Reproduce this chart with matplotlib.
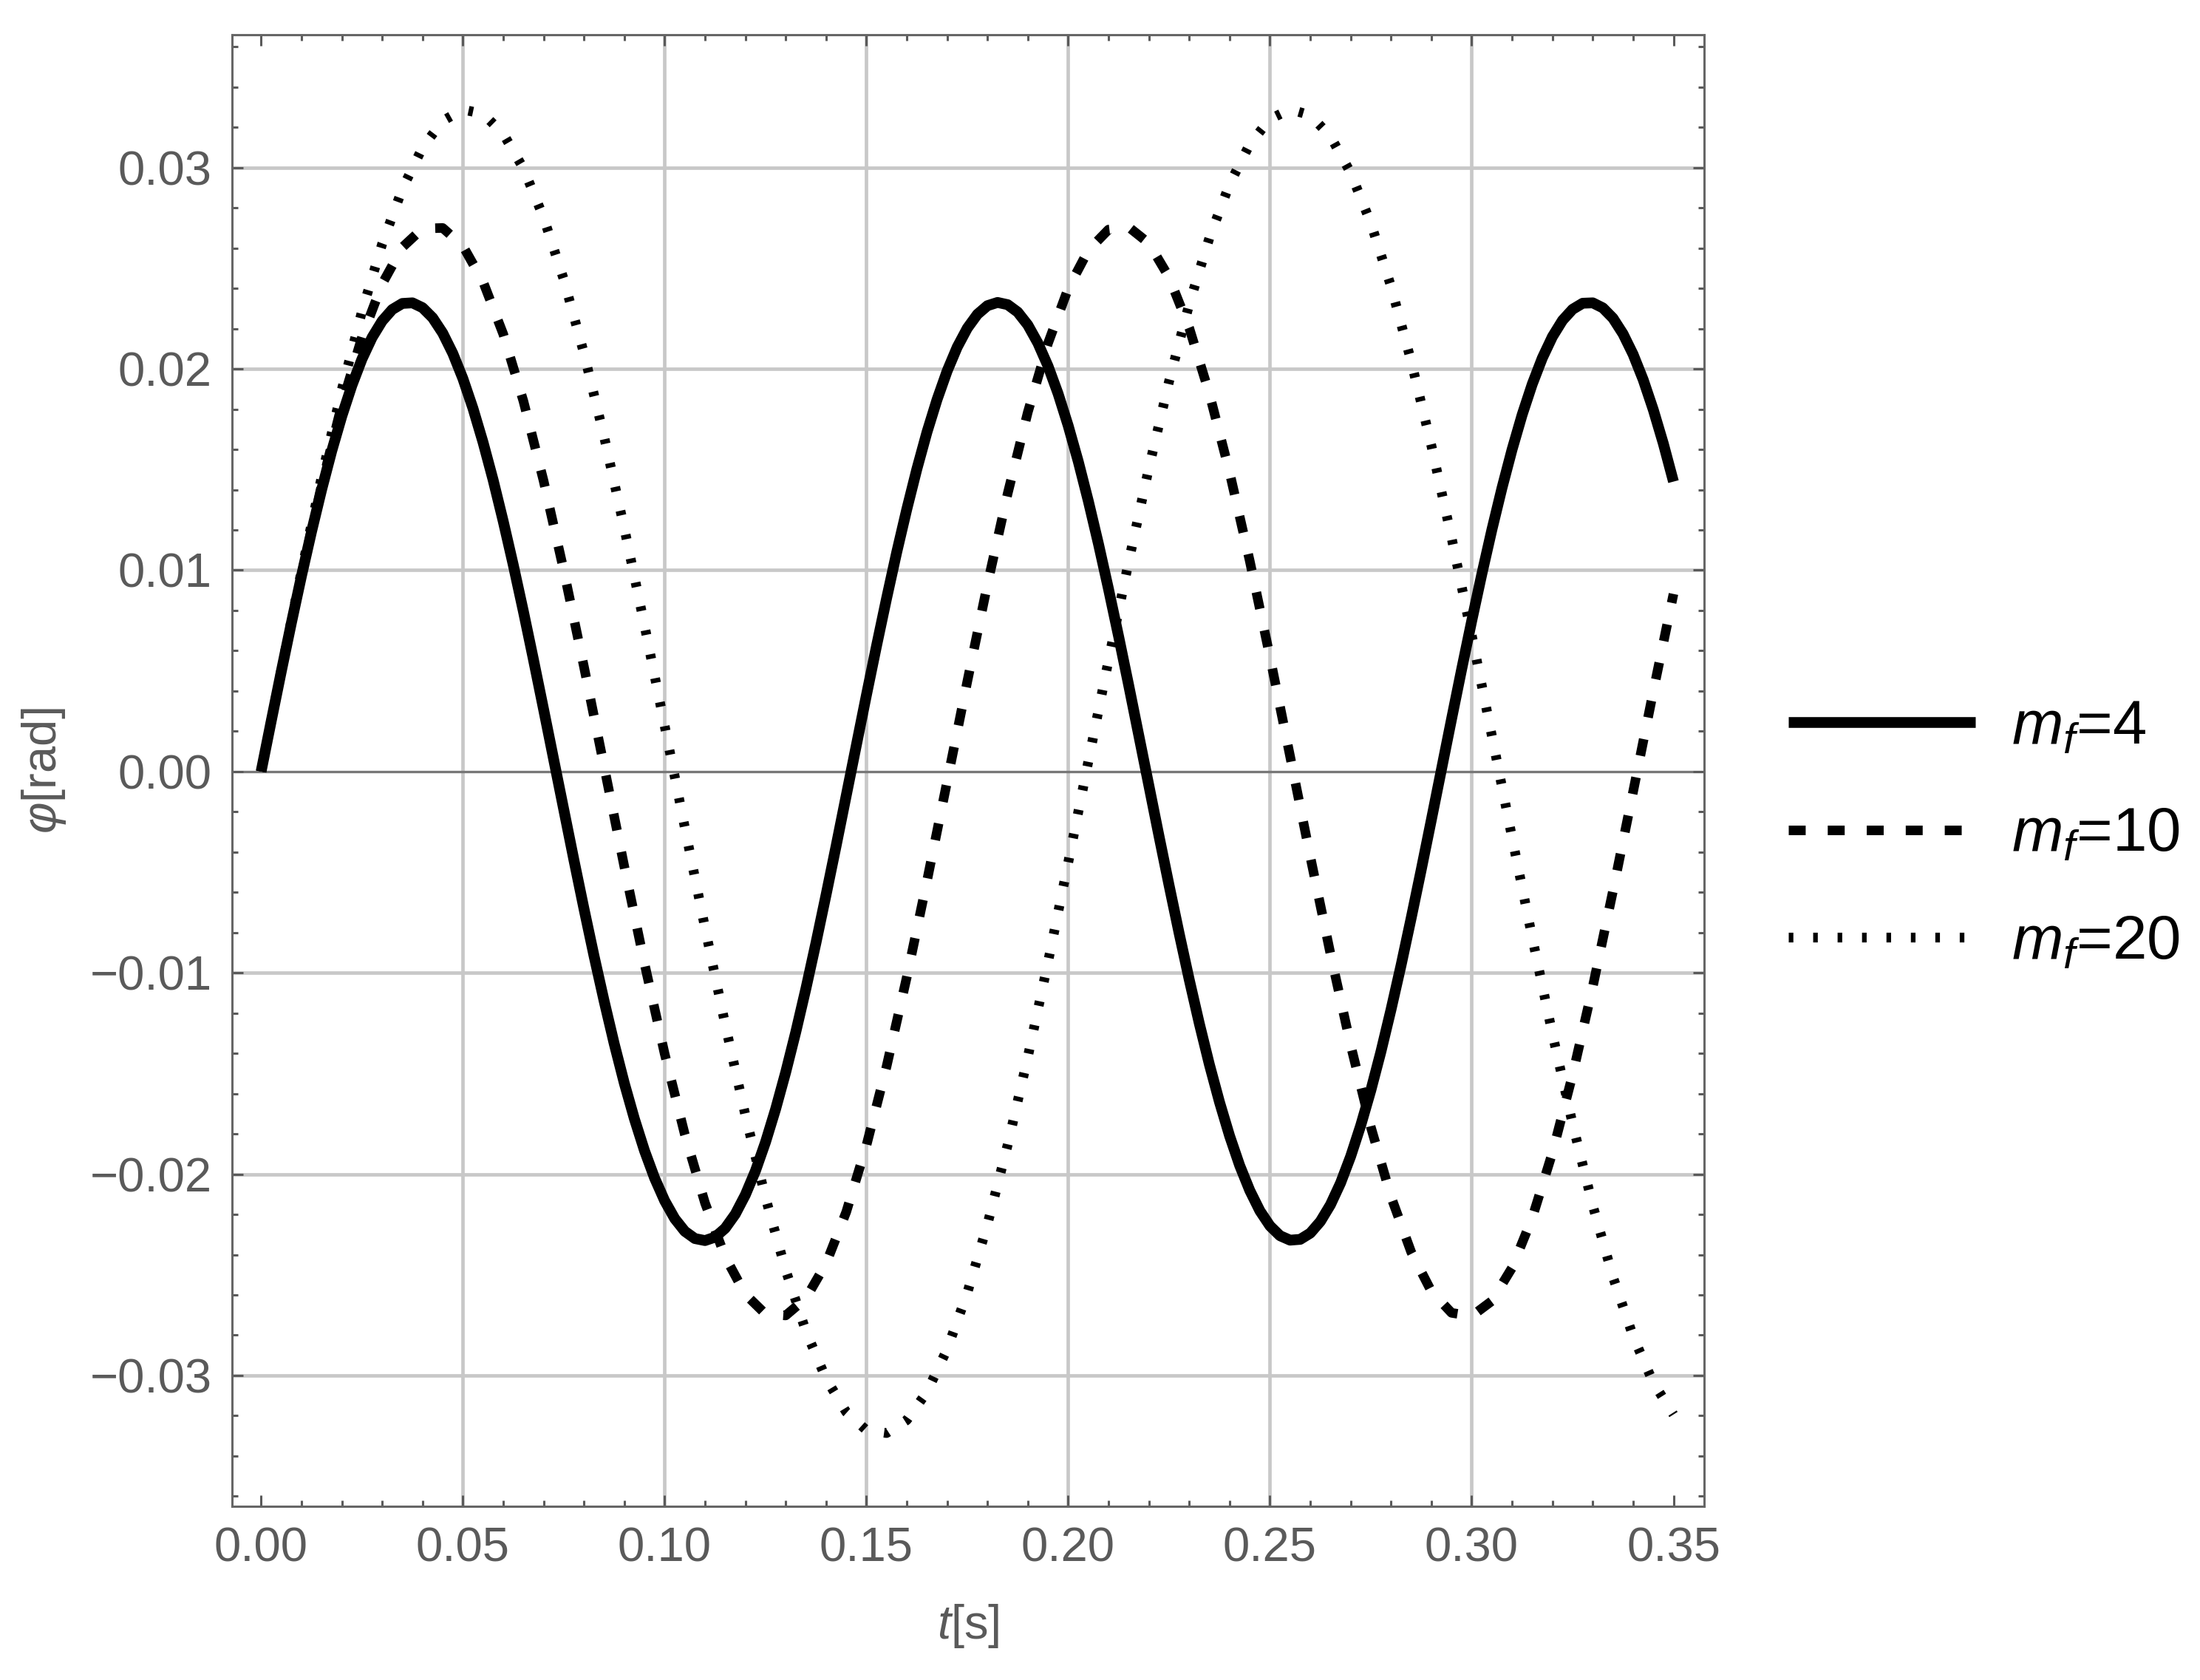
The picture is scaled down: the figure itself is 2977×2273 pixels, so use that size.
import numpy as np
import matplotlib
matplotlib.use("Agg")
import matplotlib.pyplot as plt
from matplotlib.ticker import MultipleLocator, FuncFormatter

# time samples (s): solid curve read every 0.0025 s, the other two every 0.005 s
t_fine = np.linspace(0, 0.35, 141)
t = np.linspace(0, 0.35, 71)

# phi [rad]
phi_mf4 = [0.0, 0.00250, 0.00497, 0.00738, 0.00971, 0.01192, 0.01400, 0.01592, 0.01765, 0.01918,
           0.02049, 0.02156, 0.02238, 0.02295, 0.02325, 0.02328, 0.02304, 0.02254, 0.02178, 0.02077,
           0.01952, 0.01804, 0.01635, 0.01448, 0.01243, 0.01025, 0.00795, 0.00555, 0.00309, 0.00060,
           -0.00190, -0.00438, -0.00681, -0.00916, -0.01140, -0.01352, -0.01548, -0.01725, -0.01883, -0.02019,
           -0.02132, -0.02221, -0.02284, -0.02320, -0.02330, -0.02313, -0.02269, -0.02199, -0.02103, -0.01984,
           -0.01841, -0.01677, -0.01494, -0.01294, -0.01079, -0.00851, -0.00613, -0.00369, -0.00120, 0.00130,
           0.00379, 0.00623, 0.00860, 0.01088, 0.01302, 0.01502, 0.01685, 0.01847, 0.01989, 0.02108,
           0.02202, 0.02271, 0.02314, 0.02330, 0.02319, 0.02282, 0.02218, 0.02128, 0.02014, 0.01877,
           0.01718, 0.01540, 0.01343, 0.01131, 0.00906, 0.00671, 0.00428, 0.00180, -0.00070, -0.00320,
           -0.00565, -0.00804, -0.01034, -0.01252, -0.01456, -0.01642, -0.01810, -0.01957, -0.02081, -0.02182,
           -0.02257, -0.02306, -0.02328, -0.02324, -0.02293, -0.02235, -0.02152, -0.02044, -0.01912, -0.01758,
           -0.01584, -0.01392, -0.01183, -0.00962, -0.00728, -0.00487, -0.00240, 0.00010, 0.00260, 0.00507,
           0.00748, 0.00980, 0.01201, 0.01408, 0.01599, 0.01772, 0.01924, 0.02054, 0.02160, 0.02241,
           0.02296, 0.02326, 0.02328, 0.02303, 0.02252, 0.02174, 0.02072, 0.01946, 0.01797, 0.01628,
           0.01440]

phi_mf10 = [0.0, 0.00497, 0.00976, 0.01423, 0.01822, 0.02158, 0.02422, 0.02604, 0.02697, 0.02700,
            0.02611, 0.02433, 0.02173, 0.01840, 0.01444, 0.00999, 0.00521, 0.00025, -0.00472, -0.00953,
            -0.01402, -0.01803, -0.02143, -0.02411, -0.02597, -0.02695, -0.02702, -0.02617, -0.02444, -0.02188,
            -0.01858, -0.01465, -0.01022, -0.00545, -0.00050, 0.00447, 0.00930, 0.01380, 0.01785, 0.02127,
            0.02399, 0.02589, 0.02692, 0.02704, 0.02624, 0.02455, 0.02203, 0.01876, 0.01486, 0.01046,
            0.00570, 0.00075, -0.00423, -0.00906, -0.01359, -0.01766, -0.02112, -0.02387, -0.02582, -0.02689,
            -0.02705, -0.02630, -0.02465, -0.02217, -0.01894, -0.01507, -0.01069, -0.00594, -0.00100, 0.00398,
            0.00882]

phi_mf20 = [0.0, 0.00503, 0.00995, 0.01463, 0.01897, 0.02286, 0.02621, 0.02894, 0.03100, 0.03232,
            0.03288, 0.03267, 0.03168, 0.02996, 0.02752, 0.02444, 0.02078, 0.01663, 0.01209, 0.00727,
            0.00227, -0.00278, -0.00776, -0.01256, -0.01707, -0.02117, -0.02477, -0.02780, -0.03016, -0.03182,
            -0.03272, -0.03286, -0.03222, -0.03082, -0.02870, -0.02590, -0.02249, -0.01855, -0.01418, -0.00947,
            -0.00453, 0.00051, 0.00553, 0.01043, 0.01508, 0.01938, 0.02322, 0.02651, 0.02918, 0.03116,
            0.03241, 0.03289, 0.03260, 0.03155, 0.02974, 0.02724, 0.02410, 0.02038, 0.01619, 0.01162,
            0.00677, 0.00177, -0.00328, -0.00825, -0.01303, -0.01750, -0.02156, -0.02511, -0.02806, -0.03036,
            -0.03194]

labels = ["$m_f$=4", "$m_f$=10", "$m_f$=20"]
grid_x = [0.05, 0.10, 0.15, 0.20, 0.25, 0.30]
grid_y = [-0.03, -0.02, -0.01, 0.01, 0.02, 0.03]

plt.rcParams["font.family"] = ["Liberation Sans", "DejaVu Sans"]
plt.rcParams["mathtext.fontset"] = "custom"
plt.rcParams["mathtext.rm"] = "Liberation Sans"
plt.rcParams["mathtext.it"] = "Liberation Sans:italic"
plt.rcParams["lines.scale_dashes"] = False

gray = "#5a5a5a"

fig = plt.figure(figsize=(29.77, 22.73), dpi=100)
ax = fig.add_axes([0.10548, 0.10339, 0.66913, 0.87572])

# grid + zero axis
for gx in grid_x:
    ax.axvline(gx, color="#c8c8c8", lw=3.4, zorder=0)
for gy in grid_y:
    ax.axhline(gy, color="#c8c8c8", lw=3.4, zorder=0)
ax.axhline(0, color="#777777", lw=2.4, zorder=1)

l1, = ax.plot(t_fine, phi_mf4, color="black", lw=10.5, solid_capstyle="butt",
              solid_joinstyle="round", zorder=3)
l2, = ax.plot(t, phi_mf10, color="black", lw=9.3, dashes=(16.5, 21.5), zorder=3)
l3, = ax.plot(t, phi_mf20, color="black", lw=9.5, dashes=(4.5, 19.3), zorder=3)

ax.set_xlim(-0.0072, 0.3576)
ax.set_ylim(-0.0365, 0.03658)

ax.xaxis.set_major_locator(MultipleLocator(0.05))
ax.xaxis.set_minor_locator(MultipleLocator(0.01))
ax.yaxis.set_major_locator(MultipleLocator(0.01))
ax.yaxis.set_minor_locator(MultipleLocator(0.002))

fmt = FuncFormatter(lambda v, p: ("%.2f" % v).replace("-", "\u2212") if abs(v) > 1e-9 else "0.00")
ax.xaxis.set_major_formatter(fmt)
ax.yaxis.set_major_formatter(fmt)

ax.tick_params(which="both", direction="in", top=True, right=True, color=gray, width=2.2)
ax.tick_params(which="major", length=10.5)
ax.tick_params(which="minor", length=5.5)
ax.tick_params(axis="x", which="major", labelsize=47, labelcolor=gray, pad=20)
ax.tick_params(axis="y", which="major", labelsize=47, labelcolor=gray, pad=19.5)

for s in ax.spines.values():
    s.set_color("#666666")
    s.set_linewidth(2.2)

ax.set_xlabel("$t$[s]", fontsize=47, color=gray)
ax.set_ylabel(r"$\varphi$[rad]", fontsize=47, color=gray)
ax.xaxis.set_label_coords(0.5, -0.0653)
ax.yaxis.set_label_coords(-0.1114, 0.5)

fig.legend([l1, l2, l3], labels, loc="center left", bbox_to_anchor=(0.8129, 0.5029),
           frameon=False, fontsize=60, handlelength=3.04, handletextpad=0.58,
           labelspacing=0.81, borderpad=0, borderaxespad=0)

fig.savefig("out.png", dpi=100, facecolor="white")
